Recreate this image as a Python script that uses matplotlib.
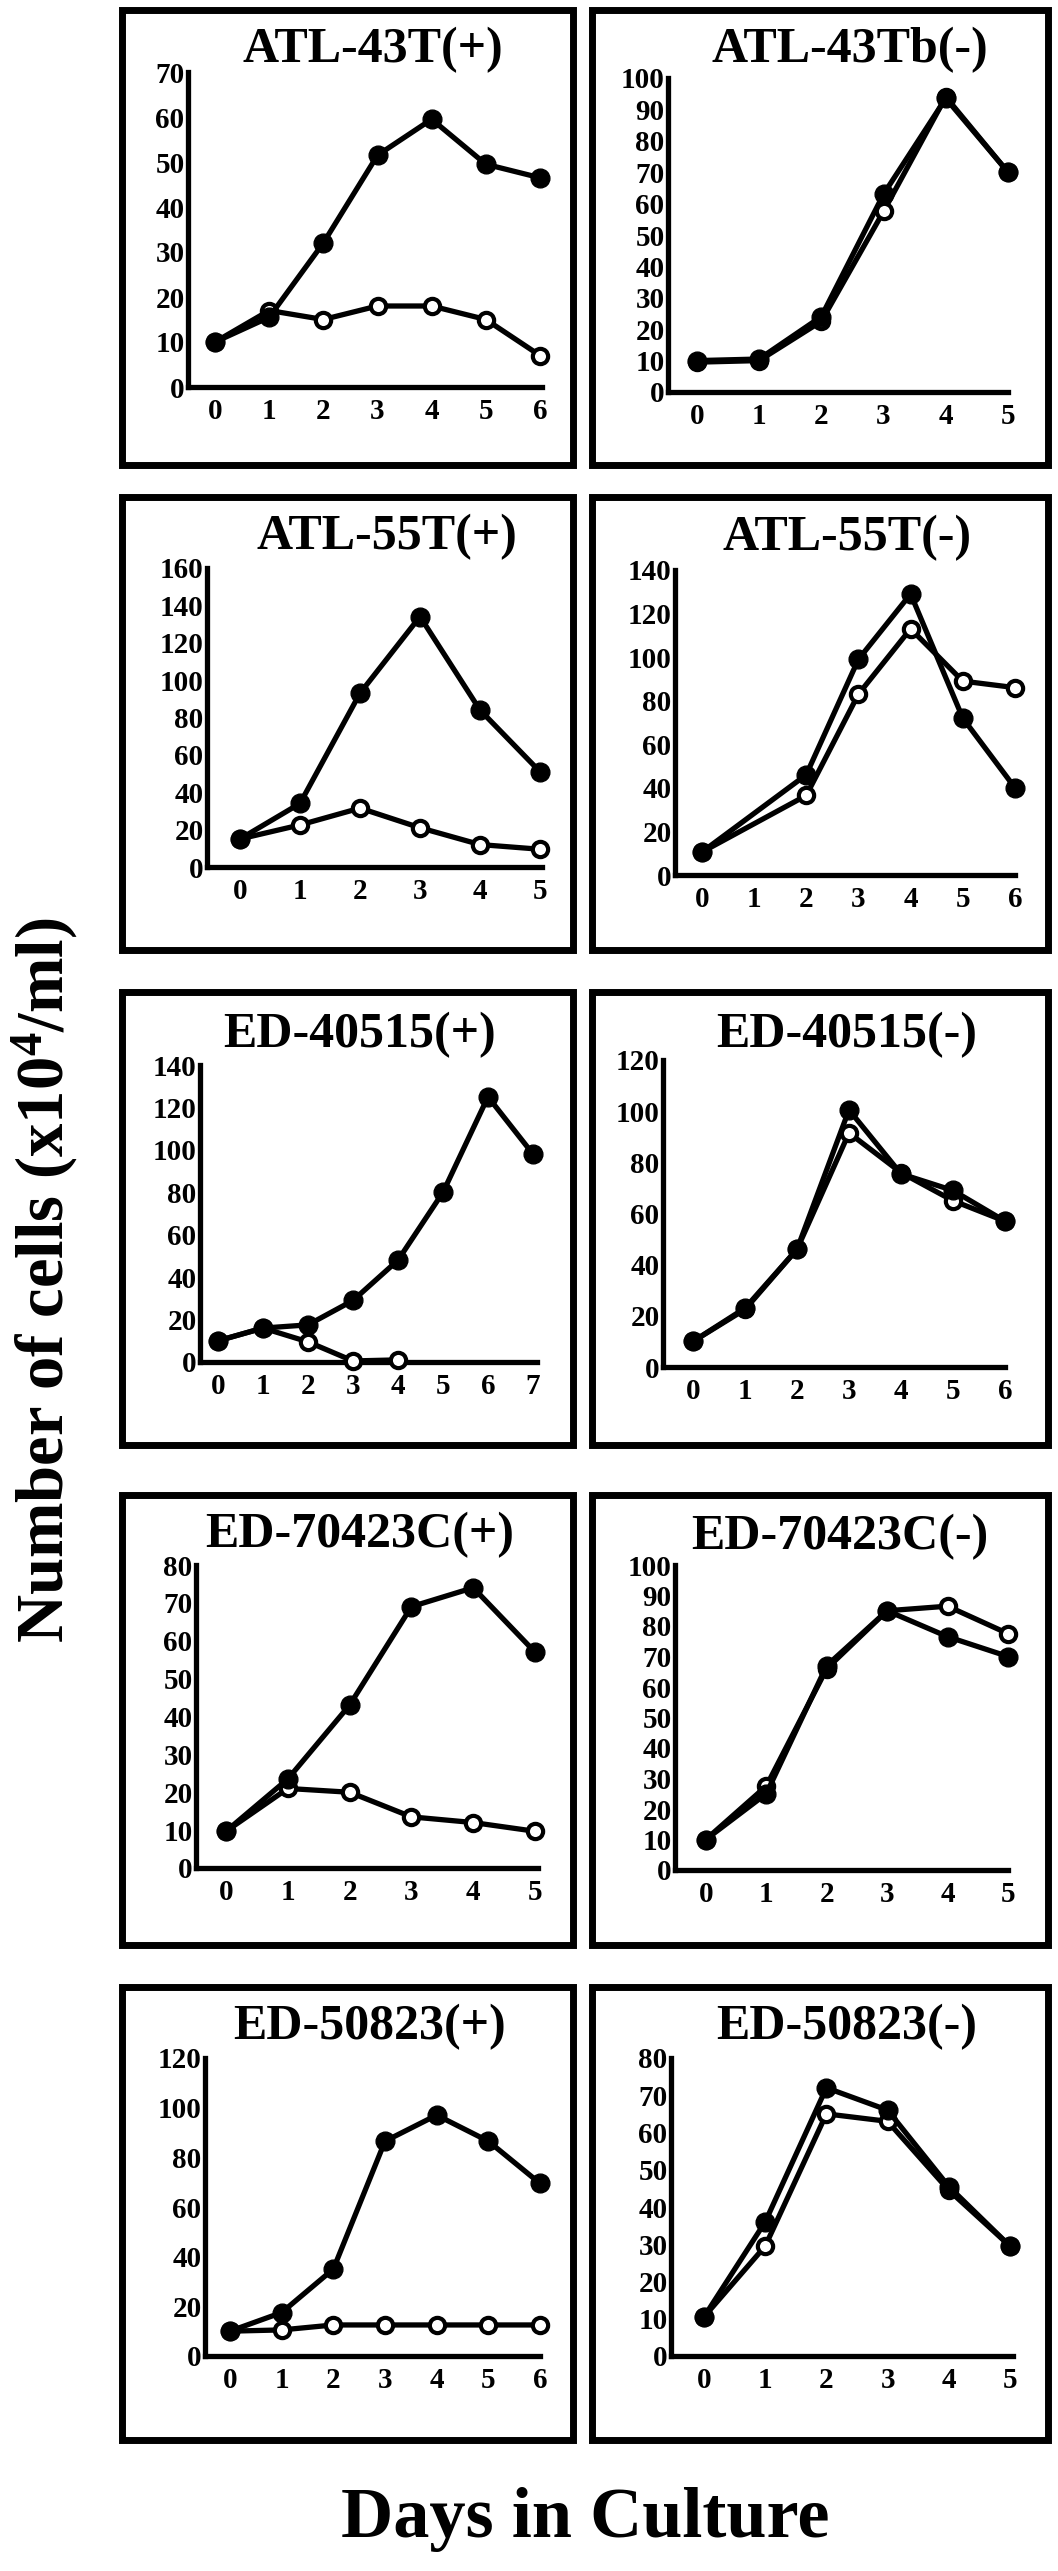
import matplotlib
matplotlib.use("Agg")
import matplotlib.pyplot as plt
from matplotlib.patches import Rectangle

plt.rcParams['font.family'] = ['Liberation Serif', 'DejaVu Serif']
plt.rcParams['font.weight'] = 'bold'
plt.rcParams['mathtext.fontset'] = 'custom'
plt.rcParams['mathtext.rm'] = 'Liberation Serif:bold'
plt.rcParams['mathtext.it'] = 'Liberation Serif:bold:italic'
plt.rcParams['mathtext.bf'] = 'Liberation Serif:bold'

# ---------------- data ----------------
titles = ["ATL-43T(+)", "ATL-43Tb(-)", "ATL-55T(+)", "ATL-55T(-)",
          "ED-40515(+)", "ED-40515(-)", "ED-70423C(+)", "ED-70423C(-)",
          "ED-50823(+)", "ED-50823(-)"]

# x tick labels (days shown on each axis)
day_ticks = [list(range(7)), list(range(6)), list(range(6)), list(range(7)),
             list(range(8)), list(range(7)), list(range(6)), list(range(6)),
             list(range(7)), list(range(6))]

# y axis maxima and tick steps
y_max = [70, 100, 160, 140, 140, 120, 80, 100, 120, 80]
y_step = [10, 10, 20, 20, 20, 20, 10, 10, 20, 10]

# filled-circle series (days, values)
filled_days = [[0, 1, 2, 3, 4, 5, 6],
               [0, 1, 2, 3, 4, 5],
               [0, 1, 2, 3, 4, 5],
               [0, 2, 3, 4, 5, 6],
               [0, 1, 2, 3, 4, 5, 6, 7],
               [0, 1, 2, 3, 4, 5, 6],
               [0, 1, 2, 3, 4, 5],
               [0, 1, 2, 3, 4, 5],
               [0, 1, 2, 3, 4, 5, 6],
               [0, 1, 2, 3, 4, 5]]
filled_vals = [[10, 15.5, 32, 51.5, 59.5, 49.5, 46.5],
               [10, 10.5, 24, 63, 93.5, 70],
               [15, 34, 93, 134, 84, 51],
               [10.5, 46, 99, 129, 72, 40],
               [10, 16, 17.5, 29, 48, 80, 125, 98],
               [10, 23, 46, 100.5, 75.5, 69, 57],
               [9.7, 23.5, 43, 69, 74, 57],
               [10, 25, 67, 85, 76.5, 70],
               [10, 17.5, 35, 86.5, 97, 86.5, 69.5],
               [10.5, 36, 72, 66, 45.5, 29.5]]

# open-circle series (days, values)
open_days = [[0, 1, 2, 3, 4, 5, 6],
             [0, 1, 2, 3, 4, 5],
             [0, 1, 2, 3, 4, 5],
             [0, 2, 3, 4, 5, 6],
             [0, 1, 2, 3, 4],
             [0, 1, 2, 3, 4, 5, 6],
             [0, 1, 2, 3, 4, 5],
             [0, 1, 2, 3, 4, 5],
             [0, 1, 2, 3, 4, 5, 6],
             [0, 1, 2, 3, 4, 5]]
open_vals = [[10, 17, 15, 18, 18, 15, 7],
             [9.5, 10, 22.5, 57.5, 94, 70],
             [15, 22.5, 31.5, 21, 12, 9.5],
             [10.5, 36.5, 83, 113, 89, 86],
             [10, 16, 9.5, 0.5, 1],
             [10, 22.5, 46, 91.5, 76, 65, 57],
             [9.7, 21, 20, 13.5, 12, 9.7],
             [10, 27.5, 66, 85, 86.5, 77.5],
             [10, 10.5, 12.5, 12.5, 12.5, 12.5, 12.5],
             [10.5, 29.5, 65, 63, 44.5, 29.5]]

# ---------------- layout (pixels in the 1058 x 2571 canvas) ----------------
W, H = 1058, 2571
col_box = [(122, 573), (592, 1048)]
row_box = [(10, 465), (497, 950), (992, 1445), (1495, 1945), (1987, 2440)]
# spine x, spine top y, axis y, axis right x, first tick x, last tick x
axes_px = [(188, 72, 387, 542, 215, 540),
           (668, 78, 392, 1008, 697, 1010),
           (207, 568, 867, 542, 240, 540),
           (675, 570, 875, 1015, 702, 1017),
           (200, 1065, 1362, 537, 218, 533),
           (663, 1060, 1367, 1005, 693, 1005),
           (196, 1565, 1868, 538, 226, 535),
           (675, 1565, 1870, 1008, 706, 1010),
           (205, 2058, 2356, 540, 230, 540),
           (671, 2058, 2356, 1013, 704, 1010)]
title_px = [(373, 50), (850, 50), (387, 537), (847, 538), (360, 1035),
            (847, 1035), (360, 1535), (840, 1537), (370, 2027), (847, 2027)]

fig = plt.figure(figsize=(W / 100, H / 100), dpi=100)


def fx(px):
    return px / W


def fy(py):
    return 1 - py / H


for i in range(10):
    r, c = divmod(i, 2)
    x0, x1 = col_box[c]
    y0, y1 = row_box[r]
    fig.patches.append(Rectangle((fx(x0), fy(y1)), (x1 - x0) / W, (y1 - y0) / H,
                                 transform=fig.transFigure, fill=False,
                                 edgecolor='black', linewidth=5.0, zorder=0))
    sx, top, axy, rx, t0, t1 = axes_px[i]
    ax = fig.add_axes([fx(sx), fy(axy), (rx - sx) / W, (axy - top) / H])
    nlast = day_ticks[i][-1]
    sp = (t1 - t0) / nlast
    ax.set_xlim(-(t0 - sx) / sp, nlast + (rx - t1) / sp)
    ax.set_ylim(0, y_max[i])
    ax.set_xticks(day_ticks[i])
    ax.set_yticks(list(range(0, y_max[i] + 1, y_step[i])))
    for s in ['top', 'right']:
        ax.spines[s].set_visible(False)
    for s in ['left', 'bottom']:
        ax.spines[s].set_linewidth(3.8)
        ax.spines[s].set_capstyle('projecting')
    ax.tick_params(axis='both', length=0, labelsize=21)
    ax.tick_params(axis='y', pad=2.5)
    ax.tick_params(axis='x', pad=8)
    for lab in ax.get_xticklabels() + ax.get_yticklabels():
        lab.set_fontweight('bold')
    ax.patch.set_alpha(0)
    ax.plot(open_days[i], open_vals[i], '-o', color='black', linewidth=3.8,
            markersize=11, markerfacecolor='white', markeredgecolor='black',
            markeredgewidth=3.0, clip_on=False, zorder=3)
    ax.plot(filled_days[i], filled_vals[i], '-o', color='black', linewidth=3.8,
            markersize=13.5, markerfacecolor='black', markeredgecolor='black',
            clip_on=False, zorder=4)
    tx, ty = title_px[i]
    fig.text(fx(tx), fy(ty), titles[i], ha='center', va='center',
             fontsize=36, fontweight='bold')

fig.text(fx(45), fy(1280), "Number of cells (x10$^{4}$/ml)", rotation=90,
         ha='center', va='center', fontsize=48, fontweight='bold')
fig.text(fx(585), fy(2520), "Days in Culture", ha='center', va='center',
         fontsize=52, fontweight='bold')

fig.savefig("out.png", dpi=100, facecolor='white')
